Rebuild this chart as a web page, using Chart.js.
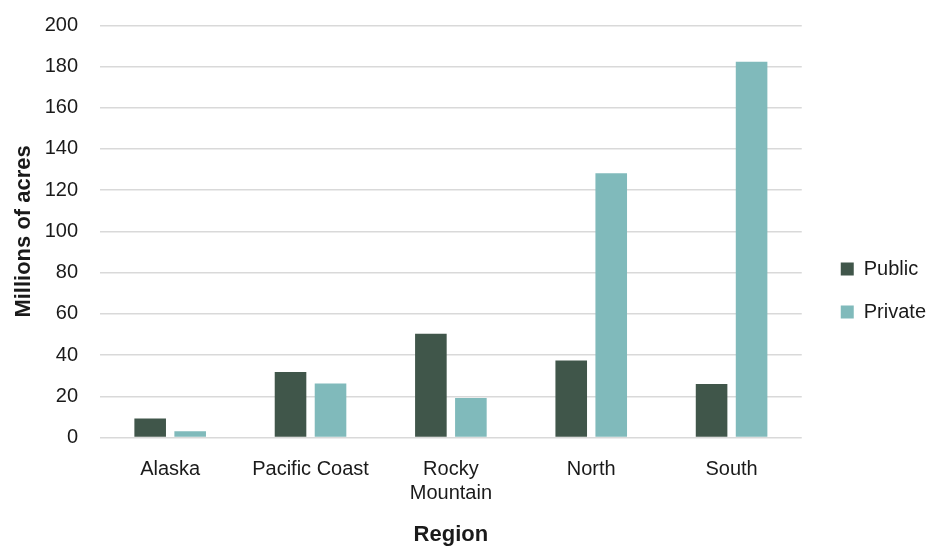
<!DOCTYPE html>
<html>
<head>
<meta charset="utf-8">
<script src="https://cdn.jsdelivr.net/npm/chart.js@4"></script>
<style>
  html, body { margin: 0; padding: 0; background: #ffffff; }
  #wrap { width: 927px; height: 548px; position: relative; }
</style>
</head>
<body>
<div id="wrap"><canvas id="c" width="927" height="548"></canvas></div>
<script>
const categories = ["Alaska", "Pacific Coast", ["Rocky", "Mountain"], "North", "South"];
const publicAcres = [9.2, 31.8, 50.3, 37.3, 25.9];
const privateAcres = [3.0, 26.2, 19.2, 128.2, 182.3];
const seriesNames = ["Public", "Private"];
const yTicks = [0, 20, 40, 60, 80, 100, 120, 140, 160, 180, 200];

const FONT = "'Liberation Sans', Arial, sans-serif";
const TEXT = "#1a1a1a";

const legendShift = {
  id: 'legendShift',
  afterLayout(chart) {
    const lg = chart.legend;
    if (!lg) return;
    const dx = 16, dy = 16.5;
    lg.left += dx; lg.right += dx;
    lg.top += dy; lg.bottom += dy;
  }
};

new Chart(document.getElementById('c'), {
  type: 'bar',
  data: {
    labels: categories,
    datasets: [
      { label: seriesNames[0], data: publicAcres, backgroundColor: '#40564a', borderWidth: 0 },
      { label: seriesNames[1], data: privateAcres, backgroundColor: '#80babb', borderWidth: 0 }
    ]
  },
  options: {
    responsive: false,
    animation: false,
    devicePixelRatio: 1,
    categoryPercentage: 0.57,
    barPercentage: 0.79,
    layout: { padding: { top: 0, right: 7, bottom: 0, left: 0 } },
    plugins: {
      tooltip: { enabled: false },
      legend: {
        position: 'right',
        labels: {
          boxWidth: 13,
          boxHeight: 13,
          padding: 23,
          color: TEXT,
          font: { family: FONT, size: 20 }
        }
      }
    },
    scales: {
      x: {
        grid: { display: false, drawTicks: false },
        border: { display: false },
        afterFit(scale) { scale.height = 110.5; },
        ticks: {
          color: TEXT,
          font: { family: FONT, size: 20, lineHeight: 1.2 },
          padding: 20,
          maxRotation: 0,
          autoSkip: false
        },
        title: {
          display: true,
          text: 'Region',
          color: TEXT,
          font: { family: FONT, size: 22, weight: 'bold' },
          padding: { top: 0, bottom: 0 }
        }
      },
      y: {
        min: 0,
        max: 200,
        afterBuildTicks(scale) { scale.ticks = yTicks.map(v => ({ value: v })); },
        afterFit(scale) { scale.width = 100; scale.paddingTop = 25.3; },
        grid: { color: '#d9d9d9', lineWidth: 1.5, drawTicks: false },
        border: { display: false },
        ticks: {
          color: TEXT,
          font: { family: FONT, size: 20 },
          padding: 22
        },
        title: {
          display: true,
          text: 'Millions of acres',
          color: TEXT,
          font: { family: FONT, size: 22, weight: 'bold' },
          padding: { top: 11, bottom: 0 }
        }
      }
    }
  },
  plugins: [legendShift]
});
</script>
</body>
</html>
